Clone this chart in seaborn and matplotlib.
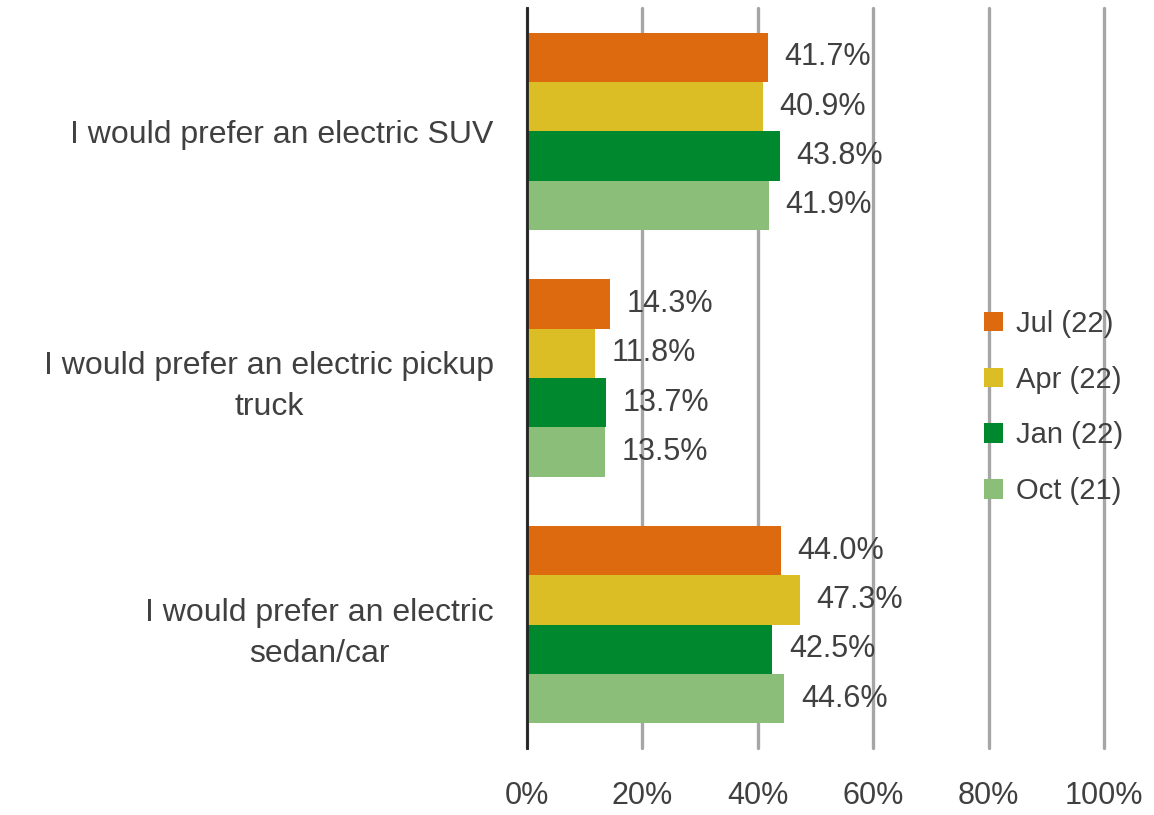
import pandas as pd
import seaborn as sns
import matplotlib.pyplot as plt
from matplotlib.ticker import FuncFormatter

# data
categories = [
    "I would prefer an electric SUV",
    "I would prefer an electric pickup\ntruck",
    "I would prefer an electric\nsedan/car",
]
periods = ["Jul (22)", "Apr (22)", "Jan (22)", "Oct (21)"]
jul_22 = [41.7, 14.3, 44.0]
apr_22 = [40.9, 11.8, 47.3]
jan_22 = [43.8, 13.7, 42.5]
oct_21 = [41.9, 13.5, 44.6]
colors = ["#DE6A10", "#DBBE26", "#00882E", "#8BBE78"]

rows = []
for per, vals in zip(periods, [jul_22, apr_22, jan_22, oct_21]):
    for cat, v in zip(categories, vals):
        rows.append({"categoria": cat, "periodo": per, "valor": v})
df = pd.DataFrame(rows)

sns.set_style("white")
plt.rcParams["font.family"] = ["Liberation Sans", "DejaVu Sans"]
txt = "#404040"

fig = plt.figure(figsize=(11.54, 8.15), dpi=100)
ax = fig.add_axes([0.4567, 0.0822, 0.5, 0.908])

sns.barplot(data=df, y="categoria", x="valor", hue="periodo",
            order=categories, hue_order=periods, palette=colors,
            orient="h", width=0.8, saturation=1, linewidth=0, ax=ax)

for cont in ax.containers:
    ax.bar_label(cont, labels=["%.1f%%" % b.get_width() for b in cont],
                 padding=12, fontsize=22, color=txt)

ax.set_xlim(0, 100)
ax.set_ylim(2.5, -0.5)
ax.set_xticks([0, 20, 40, 60, 80, 100])
ax.xaxis.set_major_formatter(FuncFormatter(lambda v, p: "%d%%" % v))
ax.grid(axis="x", color="#A6A6A6", linewidth=2.4)
for gl in ax.get_xgridlines():
    gl.set_clip_on(False)
ax.set_axisbelow(True)
ax.tick_params(axis="x", length=0, pad=24, labelsize=22, labelcolor=txt)
ax.tick_params(axis="y", length=0, pad=24, labelsize=23, labelcolor=txt)
for lab in ax.get_yticklabels():
    lab.set_multialignment("center")
    lab.set_linespacing(1.45)
ax.set_xlabel("")
ax.set_ylabel("")
for s in ["top", "right", "bottom"]:
    ax.spines[s].set_visible(False)
ax.spines["left"].set_color("#222222")
ax.spines["left"].set_linewidth(2)

handles, labels = ax.get_legend_handles_labels()
ax.legend(handles, labels, loc="center left",
          bbox_to_anchor=(0.83, 0.5), bbox_transform=fig.transFigure,
          frameon=False, fontsize=21, labelcolor=txt,
          handlelength=0.65, handleheight=0.65, handletextpad=0.45,
          labelspacing=0.95)

fig.savefig("out.png", dpi=100)
